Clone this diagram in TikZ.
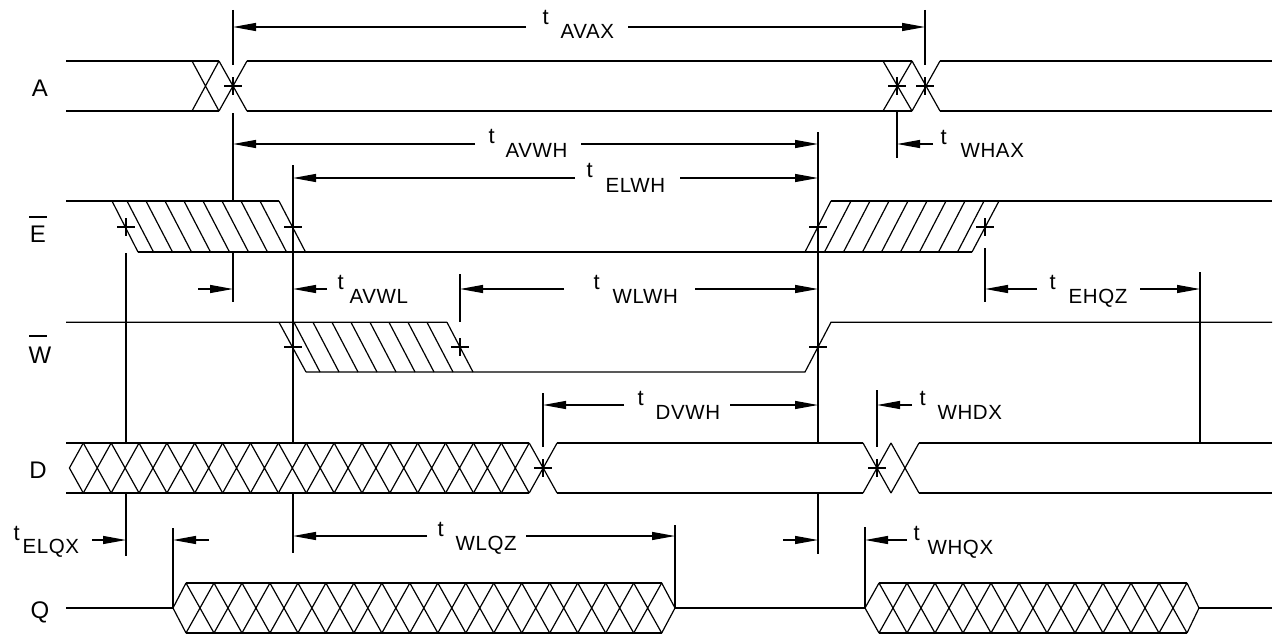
\documentclass[tikz,border=0pt]{standalone}
\usepackage{fontspec}
\setmainfont{Liberation Sans}
\newfontfamily\spaced[LetterSpace=3]{Liberation Sans}
\usetikzlibrary{arrows.meta}
\newcommand\pmark[2]{\draw (#1-9,#2)--(#1+9,#2) (#1,#2-9)--(#1,#2+9);}
\newcommand\tlabel[6]{\node[tl] (t#1) at (#2,#3) {t}; \node[tl,font=\spaced\fontsize{20.5}{22}\selectfont] (s#1) at (#4,#5) {#6};}
\begin{document}
\begin{tikzpicture}[x=1pt,y=-1pt, line width=1.2pt,
  dim/.style={-{Triangle[length=23pt,width=8pt]}, line width=1.2pt},
  sname/.style={font=\fontsize{24}{26}\selectfont, inner sep=0pt},
  tl/.style={font=\fontsize{22}{23}\selectfont, anchor=base west, inner sep=0pt}]
\useasboundingbox (0,0) rectangle (1274,634);

% ---------- signal names ----------
\node[sname] (nA) at (40,88) {A};
\node[sname] (nE) at (38,234.5) {E};
\node[sname] (nW) at (40,355) {W};
\node[sname] (nD) at (38,470) {D};
\node[sname] (nQ) at (40,612) {Q};
\draw (29,217)--(47,217);
\draw (29,336)--(47,336);

% ---------- A ----------
\draw (66,61)--(219,61) (66,111)--(219,111);
\draw (192,61)--(219,111) (192,111)--(219,61);
\draw (219,61)--(247,111) (219,111)--(247,61);
\draw (247,61)--(912,61) (247,111)--(912,111);
\draw (883,61)--(912,111) (883,111)--(912,61);
\draw (912,61)--(940,111) (912,111)--(940,61);
\draw (940,61)--(1272,61) (940,111)--(1272,111);

% ---------- E ----------
\draw (66,201)--(279,201) (138,252)--(972,252) (831,201)--(1272,201);
\draw (112,201)--(138,252);
\foreach \k in {0,...,8} \draw ({127+19*\k},201)--({153.5+19*\k},252);
\draw (831,201)--(805,252) (999,201)--(972,252);
\foreach \k in {0,...,7} \draw ({851+19*\k},201)--({824.5+19*\k},252);

% ---------- W ----------
\draw (66,322.3)--(447,322.3) (306,372)--(805,372)--(831,322.3)--(1272,322.3);
\draw (279,322.3)--(306,372) (447,322.3)--(473,372);
\foreach \k in {0,...,7} \draw ({294+19*\k},322.3)--({320+19*\k},372);

% ---------- D ----------
\draw (66,443)--(529.2,443) (66,493)--(529.2,493);
\draw (69.4,468)--(83.3,443) (69.4,468)--(83.3,493);
\foreach \k in {0,...,16}
  \draw ({83.3+27.87*\k},443)--({83.3+27.87*(\k+1)},493)
        ({83.3+27.87*\k},493)--({83.3+27.87*(\k+1)},443);
\draw (557,443)--(863,443) (557,493)--(863,493);
\draw (863,443)--(891,493) (863,493)--(891,443);
\draw (891,443)--(919,493) (891,493)--(919,443);
\draw (919,443)--(1272,443) (919,493)--(1272,493);

% ---------- Q ----------
\draw (66,608)--(173,608);
\draw (173,608)--(186,583) (173,608)--(186,633);
\draw (186,583)--(661.7,583) (186,633)--(661.7,633);
\foreach \k in {0,...,16}
  \draw ({186+27.98*\k},583)--({186+27.98*(\k+1)},633)
        ({186+27.98*\k},633)--({186+27.98*(\k+1)},583);
\draw (661.7,583)--(675,608)--(661.7,633);
\draw (675,608)--(865,608);
\draw (865,608)--(879,583) (865,608)--(879,633);
\draw (879,583)--(1187,583) (879,633)--(1187,633);
\foreach \k in {0,...,10}
  \draw ({879+28*\k},583)--({879+28*(\k+1)},633)
        ({879+28*\k},633)--({879+28*(\k+1)},583);
\draw (1187,583)--(1199,608)--(1187,633);
\draw (1199,608)--(1272,608);

% ---------- crossing marks ----------
\pmark{233}{86} \pmark{897}{86} \pmark{925}{86}
\pmark{126}{227} \pmark{293}{227} \pmark{818}{227} \pmark{985}{227}
\pmark{293}{347} \pmark{460}{347} \pmark{818}{347}
\pmark{543}{468} \pmark{877}{468}

% ---------- extension lines ----------
\draw (233,10)--(233,65) (925,10)--(925,65);
\draw (233,113)--(233,201) (233,252)--(233,302);
\draw (897,112)--(897,158);
\draw (818,132)--(818,443) (818,493)--(818,554);
\draw (293,165)--(293,443) (293,493)--(293,553);
\draw (126,253)--(126,443) (126,493)--(126,556);
\draw (543,393)--(543,447) (877,390)--(877,447);
\draw (460,274)--(460,322);
\draw (985,248)--(985,302);
\draw (1200,272)--(1200,443);
\draw (173,528)--(173,608) (675,525)--(675,608) (865,527)--(865,608);

% ---------- dimension arrows ----------
\draw[dim] (526,27)--(233,27); \draw[dim] (628,27)--(925,27);
\draw[dim] (475,144)--(233,144); \draw[dim] (581,144)--(818,144);
\draw[dim] (575,178)--(293,178); \draw[dim] (680,178)--(818,178);
\draw[dim] (933,144)--(897,144);
\draw[dim] (198,289)--(233,289); \draw[dim] (327,289)--(293,289);
\draw[dim] (564,289)--(460,289); \draw[dim] (695,289)--(818,289);
\draw[dim] (1037,289)--(985,289); \draw[dim] (1140,289)--(1200,289);
\draw[dim] (624,405)--(543,405); \draw[dim] (730,405)--(818,405);
\draw[dim] (912,405)--(877,405);
\draw[dim] (92,540)--(126,540); \draw[dim] (209,540)--(173,540);
\draw[dim] (427,536)--(293,536); \draw[dim] (526,536)--(675,536);
\draw[dim] (783,540)--(818,540);
\draw[dim] (907,540)--(865,540);

% ---------- timing labels ----------
\tlabel{avax}{542}{25}{560}{39}{AVAX}
\tlabel{avwh}{488}{143}{505}{157}{AVWH}
\tlabel{elwh}{586}{177}{605}{192}{ELWH}
\tlabel{whax}{940}{144}{960}{157}{WHAX}
\tlabel{avwl}{337}{289}{349}{303}{AVWL}
\tlabel{wlwh}{593}{289}{612}{303}{WLWH}
\tlabel{ehqz}{1049}{289}{1068}{303}{EHQZ}
\tlabel{dvwh}{637}{405}{655}{419}{DVWH}
\tlabel{whdx}{919}{405}{937}{419}{WHDX}
\tlabel{elqx}{13}{540}{22}{553}{ELQX}
\tlabel{wlqz}{437}{536}{455}{550}{WLQZ}
\tlabel{whqx}{913}{540}{927}{554}{WHQX}
\end{tikzpicture}
\end{document}
